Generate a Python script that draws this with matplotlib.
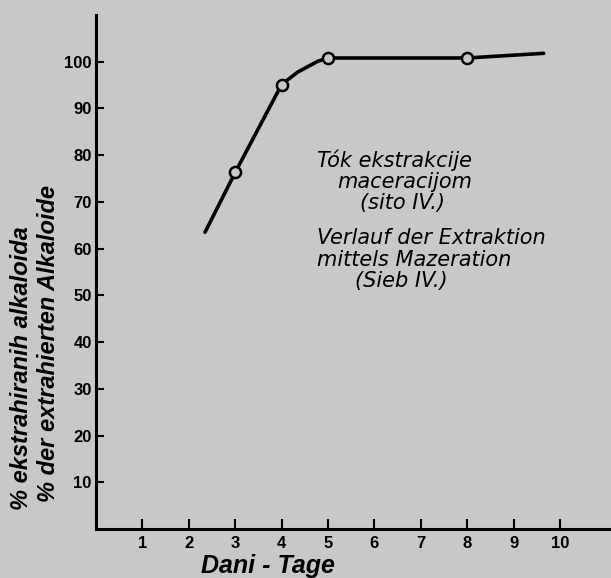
import matplotlib
matplotlib.use("Agg")
import matplotlib.pyplot as plt

# Data
days = [3, 4, 5, 8]
percent = [76.3, 95.1, 100.8, 100.8]
curve_days = [2.35, 3, 4, 4.35, 4.78, 5, 8, 9.65]
curve_percent = [63.5, 76.3, 95.1, 97.8, 100.1, 100.8, 100.8, 101.8]
x_ticks = [1, 2, 3, 4, 5, 6, 7, 8, 9, 10]
y_ticks = [10, 20, 30, 40, 50, 60, 70, 80, 90, 100]

bg = "#c8c8c8"
W, H = 611, 578
fig = plt.figure(figsize=(W / 100, H / 100), dpi=100, facecolor=bg)
left, right = 96 / W, 1.0
bottom, top = (H - 529) / H, (H - 15) / H
ax = fig.add_axes([left, bottom, right - left, top - bottom], facecolor=bg)

ax.plot(curve_days, curve_percent, color="black", lw=2.6, solid_capstyle="round", zorder=2)
ax.plot(days, percent, "o", ms=8, mfc=bg, mec="black", mew=1.8, zorder=3)

ax.set_xlim(0, 11.1)
ax.set_ylim(0, 110)
for s in ["top", "right"]:
    ax.spines[s].set_visible(False)
for s in ["left", "bottom"]:
    ax.spines[s].set_linewidth(2.2)
ax.set_xticks(x_ticks)
ax.set_yticks(y_ticks)
ax.tick_params(axis="y", direction="in", length=6, width=1.5, labelsize=12, pad=3)
ax.tick_params(axis="x", direction="in", length=7, width=1.5, labelsize=12, pad=5)
for lab in ax.get_xticklabels() + ax.get_yticklabels():
    lab.set_fontweight("bold")
    lab.set_family("Liberation Sans")

font = dict(family="Liberation Sans", style="italic", fontweight="bold")
ax.set_xlabel("Dani - Tage", fontsize=18, labelpad=2, x=0.333, **font)

fig.text(22 / W, 1 - 368 / H, "% ekstrahiranih alkaloida", rotation=90,
         ha="center", va="center", fontsize=17, **font)
fig.text(49 / W, 1 - 344 / H, "% der extrahierten Alkaloide", rotation=90,
         ha="center", va="center", fontsize=17, **font)

tfont = dict(family="DejaVu Sans", style="italic", fontsize=15)
ann_lines = [
    (317, 160, "Tók ekstrakcije"),
    (337, 182, "maceracijom"),
    (360, 203, "(sito IV.)"),
    (317, 238, "Verlauf der Extraktion"),
    (317, 260, "mittels Mazeration"),
    (355, 281, "(Sieb IV.)"),
]
for px, py, s in ann_lines:
    fig.text(px / W, 1 - py / H, s, ha="left", va="center", **tfont)

fig.savefig("out.png", dpi=100, facecolor=bg)
